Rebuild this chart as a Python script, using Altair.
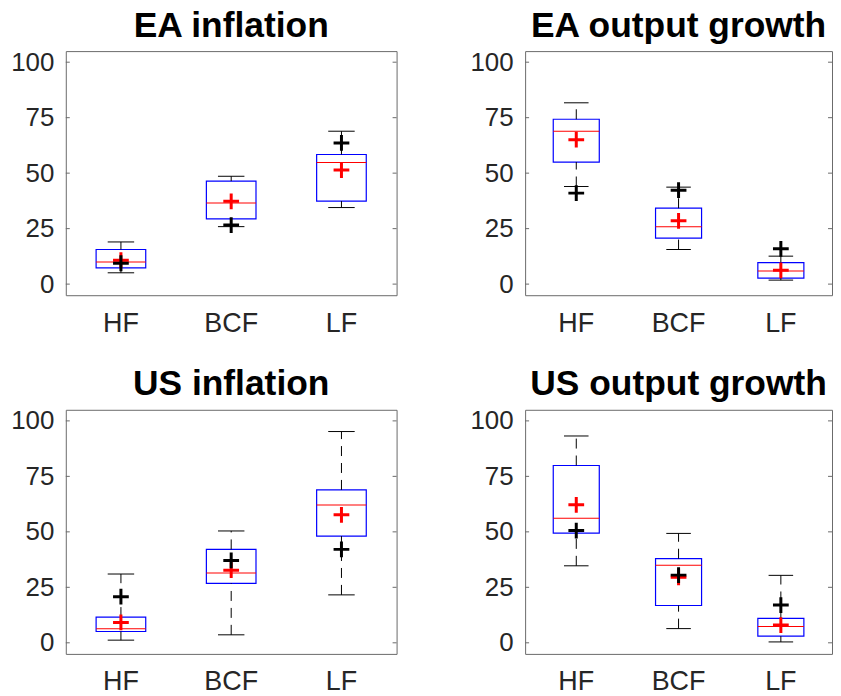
import altair as alt
import pandas as pd

FONT = "Liberation Sans"

categories = ["HF", "BCF", "LF"]
titles = ["EA inflation", "EA output growth", "US inflation", "US output growth"]
y_ticks = [0, 25, 50, 75, 100]

# one row per panel, one value per category (HF, BCF, LF)
whisker_low = [[5.1, 25.9, 34.5], [44.0, 15.6, 1.8], [1.2, 3.6, 21.6], [34.7, 6.4, 0.4]]
q1 = [[7.3, 29.4, 37.4], [55.0, 20.7, 2.7], [5.1, 26.8, 48.1], [49.4, 16.8, 3.0]]
median = [[10.0, 36.6, 54.8], [68.9, 25.9, 5.9], [6.3, 31.5, 62.1], [56.1, 34.9, 7.3]]
q3 = [[15.6, 46.4, 58.4], [74.3, 34.2, 9.7], [11.6, 42.1, 68.9], [79.9, 37.9, 11.0]]
whisker_high = [[19.0, 48.6, 68.9], [81.7, 43.7, 12.6], [31.0, 50.4, 95.2], [93.2, 49.3, 30.4]]
mean_red = [[10.8, 37.3, 51.4], [65.1, 28.5, 6.2], [9.2, 32.7, 57.7], [62.2, 29.5, 8.0]]
marker_black = [[9.4, 26.6, 63.6], [41.0, 42.3, 15.9], [20.8, 37.1, 42.1], [50.6, 30.5, 17.0]]

PLUS = "M-1,0L1,0M0,-1L0,1"
FRAME = "#6a6a6a"
LABEL = "#262626"
H = 245


def panel(i, width):
    df = pd.DataFrame({
        "cat": categories,
        "lo": whisker_low[i],
        "q1": q1[i],
        "med": median[i],
        "q3": q3[i],
        "hi": whisker_high[i],
        "mean": mean_red[i],
        "blk": marker_black[i],
    })
    tdf = pd.DataFrame({"v": y_ticks})
    band = width / 3.0

    x = alt.X("cat:N", sort=categories,
              scale=alt.Scale(paddingInner=0, paddingOuter=0),
              axis=alt.Axis(title=None, labelAngle=0))

    def Y(field):
        return alt.Y(field, type="quantitative",
                     scale=alt.Scale(domain=[-5, 105], nice=False, zero=False),
                     axis=alt.Axis(values=y_ticks, title=None))

    base = alt.Chart(df)
    box = base.mark_bar(width=alt.RelativeBandSize(0.45), fill="transparent",
                        stroke="#0000ff", strokeWidth=1.2).encode(
        x=x, y=Y("q1"), y2="q3:Q")
    wu = base.mark_rule(color="black", strokeWidth=1, strokeDash=[10, 7]).encode(
        x=x, y=Y("q3"), y2="hi:Q")
    wl = base.mark_rule(color="black", strokeWidth=1, strokeDash=[10, 7]).encode(
        x=x, y=Y("lo"), y2="q1:Q")
    cap_hi = base.mark_tick(color="black", thickness=1, size=band * 0.24,
                            opacity=1).encode(x=x, y=Y("hi"))
    cap_lo = base.mark_tick(color="black", thickness=1, size=band * 0.24,
                            opacity=1).encode(x=x, y=Y("lo"))
    med = base.mark_tick(color="#ff0000", thickness=1, size=band * 0.45,
                         opacity=1).encode(x=x, y=Y("med"))
    red = base.mark_point(shape=PLUS, size=250, filled=False, strokeWidth=3,
                          color="#ff0000", opacity=1).encode(x=x, y=Y("mean"))
    blk = base.mark_point(shape=PLUS, size=250, filled=False, strokeWidth=3,
                          color="#000000", opacity=1).encode(x=x, y=Y("blk"))
    tl = alt.Chart(tdf).mark_rule(color=FRAME, strokeWidth=1).encode(
        x=alt.value(0), x2=alt.value(4), y=Y("v"))
    tr = alt.Chart(tdf).mark_rule(color=FRAME, strokeWidth=1).encode(
        x=alt.value(width - 4), x2=alt.value(width), y=Y("v"))

    return alt.layer(box, tl, tr, wu, wl, cap_hi, cap_lo, med, red, blk).properties(
        width=width, height=H,
        title=alt.TitleParams(titles[i], fontSize=35.5, fontWeight="bold",
                              font=FONT, color="black", anchor="middle",
                              baseline="alphabetic", offset=-23),
    )


row1 = alt.hconcat(panel(0, 332), panel(1, 308), spacing=72)
row2 = alt.hconcat(panel(2, 332), panel(3, 308), spacing=72)
chart = (
    alt.vconcat(row1, row2, spacing=30)
    .configure_view(stroke=FRAME, strokeWidth=1)
    .configure_axisX(ticks=False, tickSize=0, domain=False, grid=False,
                     labelFontSize=27, labelFont=FONT, labelColor=LABEL,
                     labelPadding=15)
    .configure_axisY(ticks=False, tickSize=0, domain=False, grid=False,
                     labelFontSize=26, labelFont=FONT, labelColor=LABEL,
                     labelPadding=12, labelAlign="right", labelBaseline="middle")
    .properties(padding={"left": 2, "top": -1, "right": 0, "bottom": 0})
)

chart.save("out.html", embed_options={"renderer": "svg", "actions": False})
